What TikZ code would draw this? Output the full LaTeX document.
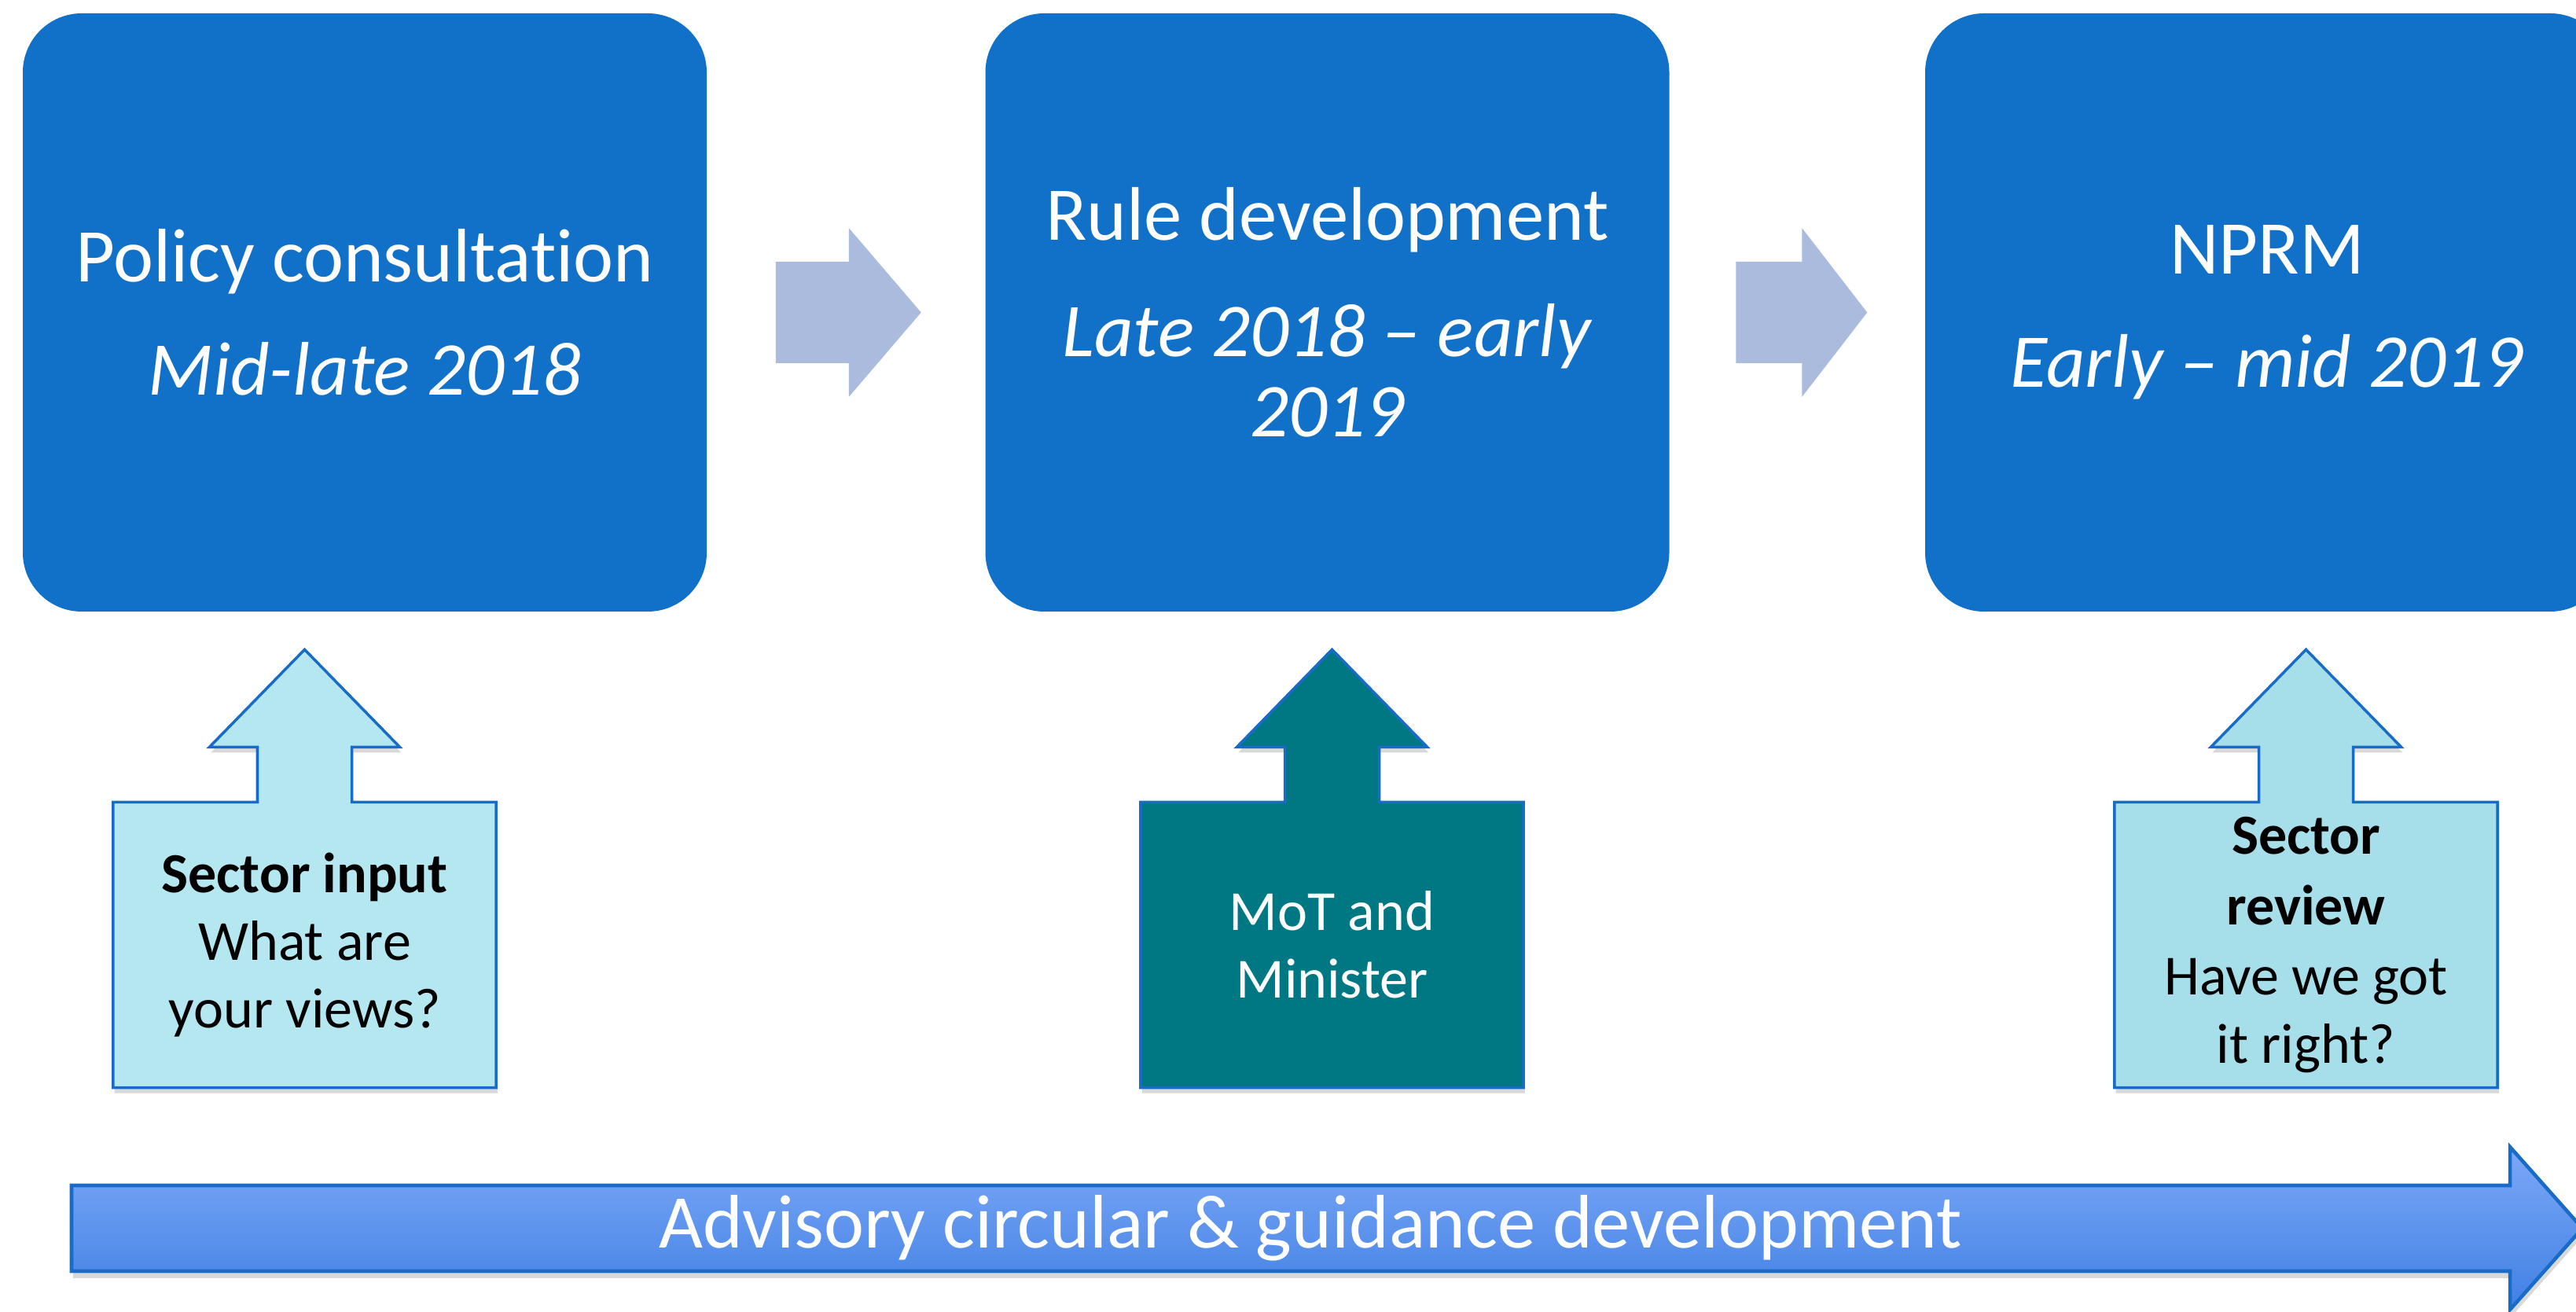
\documentclass[tikz,border=0pt]{standalone}
\usepackage{fontspec}
\setmainfont{Carlito}[Ligatures={TeX,NoCommon,NoContextual}]
\usetikzlibrary{positioning,calc,shadows,backgrounds}

\definecolor{boxblue}{RGB}{17,112,199}
\definecolor{arrowlight}{RGB}{171,187,222}
\definecolor{edgeblue}{RGB}{24,108,200}
\definecolor{paleaqua}{RGB}{180,231,240}
\definecolor{softaqua}{RGB}{166,222,233}
\definecolor{deepteal}{RGB}{0,120,132}
\definecolor{bandtop}{RGB}{124,168,247}
\definecolor{bandbottom}{RGB}{64,128,228}

\tikzset{
  stage/.style={rounded corners=0.75cm, fill=boxblue, text=white, minimum width=8.7cm,
    minimum height=7.61cm, align=center, inner sep=0pt,
    font=\fontsize{27.5}{29}\selectfont},
  flowarrow/.style={fill=arrowlight},
  callouttext/.style={align=center, minimum width=4.86cm, minimum height=3.62cm, inner sep=0pt,
    font=\fontsize{20.5}{24.5}\selectfont},
  calloutbox/.style={draw=edgeblue, line width=1pt,
    drop shadow={opacity=0.3, shadow xshift=0.5pt, shadow yshift=-2pt}},
  bandarrow/.style={draw=edgeblue, line width=1.3pt, top color=bandtop, bottom color=bandbottom,
    drop shadow={opacity=0.3, shadow xshift=0.5pt, shadow yshift=-2.5pt}},
}

\begin{document}
\begin{tikzpicture}
\useasboundingbox (0,0) rectangle (32.77,16.69);

% Stages
\node[stage] (policy) at (4.64,12.715) {Policy consultation\\[12pt]\textit{Mid-late 2018}};
\node[stage] (rule) at (16.885,12.715) {Rule development\\[13pt]\textit{Late 2018 – early}\\\textit{2019}};
\node[stage] (nprm) at (28.84,12.715) {NPRM\\[12pt]\textit{Early – mid 2019}};

% Arrows between stages
\coordinate (m1) at ($(policy.east)!0.5!(rule.west)$);
\coordinate (m2) at ($(rule.east)!0.5!(nprm.west)$);
\fill[flowarrow] ($(m1)+(-0.895,0.645)$) -- ($(m1)+(0.035,0.645)$) -- ($(m1)+(0.035,1.075)$)
  -- ($(m1)+(0.955,0)$) -- ($(m1)+(0.035,-1.075)$) -- ($(m1)+(0.035,-0.645)$) -- ($(m1)+(-0.895,-0.645)$) -- cycle;
\fill[flowarrow] ($(m2)+(-0.78,0.645)$) -- ($(m2)+(0.06,0.645)$) -- ($(m2)+(0.06,1.075)$)
  -- ($(m2)+(0.89,0)$) -- ($(m2)+(0.06,-1.075)$) -- ($(m2)+(0.06,-0.645)$) -- ($(m2)+(-0.78,-0.645)$) -- cycle;

% Inputs
\node[callouttext] (input) at (3.875,4.67) {\textbf{Sector input}\\What are\\your views?};
\node[callouttext, text=white] (minister) at (16.945,4.67) {MoT and\\Minister};
\node[callouttext] (review) at (29.335,4.67) {\textbf{Sector}\\[1pt]\textbf{review}\\[1pt]Have we got\\it right?};

\begin{scope}[on background layer]
\filldraw[calloutbox, fill=paleaqua] (input.south west) -- (input.north west) -- ($(input.north)+(-0.6,0)$)
  -- ++(0,0.7) -- ++(-0.61,0) -- ($(input.north)+(0,1.94)$) -- ($(input.north)+(1.21,0.7)$)
  -- ++(-0.61,0) -- ($(input.north)+(0.6,0)$) -- (input.north east) -- (input.south east) -- cycle;
\filldraw[calloutbox, fill=deepteal] (minister.south west) -- (minister.north west) -- ($(minister.north)+(-0.6,0)$)
  -- ++(0,0.7) -- ++(-0.61,0) -- ($(minister.north)+(0,1.94)$) -- ($(minister.north)+(1.21,0.7)$)
  -- ++(-0.61,0) -- ($(minister.north)+(0.6,0)$) -- (minister.north east) -- (minister.south east) -- cycle;
\filldraw[calloutbox, fill=softaqua] (review.south west) -- (review.north west) -- ($(review.north)+(-0.6,0)$)
  -- ++(0,0.7) -- ++(-0.61,0) -- ($(review.north)+(0,1.94)$) -- ($(review.north)+(1.21,0.7)$)
  -- ++(-0.61,0) -- ($(review.north)+(0.6,0)$) -- (review.north east) -- (review.south east) -- cycle;
\end{scope}

% Guidance band
\path[bandarrow] (0.91,1.61) -- (31.93,1.61) -- (31.93,2.10) -- (32.85,1.065) -- (31.93,0.03)
  -- (31.93,0.52) -- (0.91,0.52) -- cycle;
\node[text=white, font=\fontsize{27.5}{29}\selectfont] (advisory) at (16.67,1.065) {Advisory circular \& guidance development};

\end{tikzpicture}
\end{document}
